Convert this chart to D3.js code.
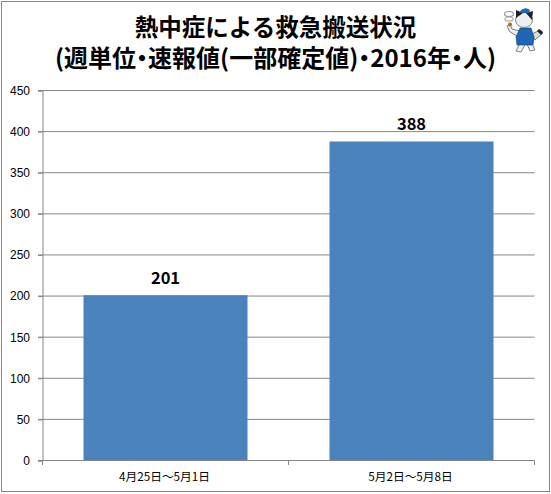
<!DOCTYPE html>
<html>
<head>
    <meta charset="utf-8">
    <script src="https://d3js.org/d3.v7.min.js"></script>
    <style>
        html, body { margin: 0; padding: 0; background: #fff; }
        svg { display: block; }
        text { font-family: "Noto Sans CJK JP", "Noto Sans", sans-serif; fill: #000; }
    </style>
</head>
<body>
    <svg id="chart"></svg>
    <script>
        const categories = ["4月25日～5月1日", "5月2日～5月8日"];
        const values = [201, 388];
        const yTicks = [0, 50, 100, 150, 200, 250, 300, 350, 400, 450];
        const titleLines = ["熱中症による救急搬送状況", "(週単位・速報値(一部確定値)・2016年・人)"];

        const width = 551;
        const height = 494;
        const gray = "#868686";

        const svg = d3.select("#chart")
            .attr("width", width)
            .attr("height", height);

        svg.append("rect")
            .attr("x", 1.5).attr("y", 1.5)
            .attr("width", 548).attr("height", 490)
            .attr("fill", "#fff")
            .attr("stroke", gray)
            .attr("stroke-width", 1);

        const x = d3.scaleBand().domain(categories).range([42.5, 534.5]).paddingInner(1 / 3).paddingOuter(1 / 6);
        const y = d3.scaleLinear().domain([0, 450]).range([460.5, 90.5]);

        // Gridlines, running out past the axis like the tick marks
        svg.append("g").selectAll("line")
            .data(yTicks.filter(d => d > 0))
            .enter()
            .append("line")
            .attr("x1", 38).attr("x2", 534.5)
            .attr("y1", d => y(d)).attr("y2", d => y(d))
            .attr("stroke", gray);

        svg.append("g").selectAll("rect")
            .data(values)
            .enter()
            .append("rect")
            .attr("x", (d, i) => x(categories[i]))
            .attr("y", d => y(d))
            .attr("width", x.bandwidth())
            .attr("height", d => y(0) - y(d))
            .attr("fill", "#4a82bc");

        // Value labels
        svg.append("g").selectAll("text")
            .data(values)
            .enter()
            .append("text")
            .attr("x", (d, i) => x(categories[i]) + x.bandwidth() / 2)
            .attr("y", d => y(d) - 11)
            .attr("text-anchor", "middle")
            .attr("font-size", 16.5)
            .attr("font-weight", 700)
            .text(d => d);

        // Axes
        const yAxis = d3.axisLeft(y).tickValues(yTicks).tickSize(4.5).tickPadding(8);
        const yG = svg.append("g").attr("transform", "translate(42.5,0)").call(yAxis);
        yG.selectAll("text").attr("font-size", 12).style("font-family", "'Liberation Sans', 'Noto Sans', sans-serif");
        yG.selectAll("line, path").attr("stroke", gray);

        const edgeTicks = [42.5, 288.5, 534.5];
        const xAxisG = svg.append("g");
        xAxisG.append("line")
            .attr("x1", 38).attr("x2", 534.5)
            .attr("y1", y(0)).attr("y2", y(0))
            .attr("stroke", gray);
        xAxisG.selectAll("line.tick")
            .data(edgeTicks)
            .enter()
            .append("line")
            .attr("class", "tick")
            .attr("x1", d => d).attr("x2", d => d)
            .attr("y1", y(0)).attr("y2", y(0) + 4.5)
            .attr("stroke", gray);
        xAxisG.selectAll("text")
            .data(categories)
            .enter()
            .append("text")
            .attr("x", d => x(d) + x.bandwidth() / 2 - 1)
            .attr("y", 480.5)
            .attr("text-anchor", "middle")
            .attr("font-size", 11.7)
            .text(d => d);

        // Title, second line with narrow middle dots
        svg.append("g").selectAll("text")
            .data(titleLines)
            .enter()
            .append("text")
            .attr("x", 275.5)
            .attr("y", (d, i) => 35.5 + i * 31.5)
            .attr("text-anchor", "middle")
            .attr("font-size", (d, i) => i ? 24 : 23.5)
            .attr("font-weight", 700)
            .style("font-feature-settings", (d, i) => i ? "'palt'" : "normal")
            .text(d => d);

        // Small mascot in the top right corner
        const cat = svg.append("g");
        // smoke
        cat.append("ellipse").attr("cx", 509).attr("cy", 14).attr("rx", 4.5).attr("ry", 2.5).attr("fill", "none").attr("stroke", "#999").attr("stroke-width", 1.2);
        cat.append("ellipse").attr("cx", 509).attr("cy", 19).attr("rx", 4).attr("ry", 2).attr("fill", "none").attr("stroke", "#aaa").attr("stroke-width", 1.2);
        // tail
        cat.append("path").attr("d", "M532 34 L540 30 L543 33 L535 40 Z").attr("fill", "#ddd").attr("stroke", "#555").attr("stroke-width", 0.8);
        cat.append("path").attr("d", "M539 29 L543 32 L541 35 L537 31 Z").attr("fill", "#222");
        // legs
        cat.append("path").attr("d", "M520 43 L516 51 L521 52 L525 45 Z M527 44 L530 51 L535 50 L532 43 Z").attr("fill", "#eee").attr("stroke", "#666").attr("stroke-width", 0.8);
        // arm with pipe
        cat.append("path").attr("d", "M520 31 L512 29 L510 24 L507 26 L510 32 L519 37 Z").attr("fill", "#eee").attr("stroke", "#666").attr("stroke-width", 0.8);
        cat.append("circle").attr("cx", 510).attr("cy", 24.5).attr("r", 2).attr("fill", "#b5651d");
        // blue vest
        cat.append("path").attr("d", "M520 28 L531 28 L534 37 L533 45 L517 45 L516 37 Z").attr("fill", "#1c66b4").attr("stroke", "#123c70").attr("stroke-width", 0.6);
        // head
        cat.append("ellipse").attr("cx", 524).attr("cy", 20).attr("rx", 8.5).attr("ry", 7.5).attr("fill", "#eee").attr("stroke", "#555").attr("stroke-width", 0.7);
        cat.append("path").attr("d", "M516 18 L516 10 L523 13 Z M526 13 L533 11 L532 20 Z").attr("fill", "#222");
        cat.append("path").attr("d", "M520 11 Q525 6 530 10 L529 13 L521 13 Z").attr("fill", "#1c66b4");
    </script>
</body>
</html>
